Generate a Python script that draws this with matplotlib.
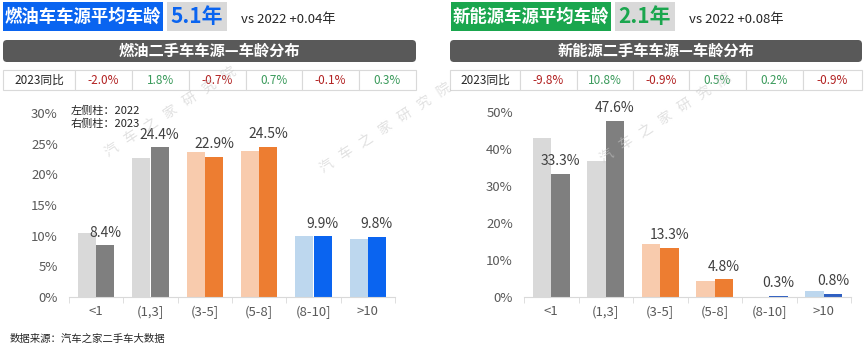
import matplotlib
matplotlib.use("Agg")
import matplotlib.pyplot as plt
from matplotlib.patches import Rectangle, FancyBboxPatch

plt.rcParams['font.family'] = ['Noto Sans CJK SC', 'DejaVu Sans']

# data
categories = ['<1', '(1,3]', '(3-5]', '(5-8]', '(8-10]', '>10']
fuel_2022 = [10.4, 22.6, 23.6, 23.8, 10.0, 9.5]
fuel_2023 = [8.4, 24.4, 22.9, 24.5, 9.9, 9.8]
fuel_yoy = [-2.0, 1.8, -0.7, 0.7, -0.1, 0.3]
nev_2022 = [43.1, 36.8, 14.2, 4.3, 0.1, 1.7]
nev_2023 = [33.3, 47.6, 13.3, 4.8, 0.3, 0.8]
nev_yoy = [-9.8, 10.8, -0.9, 0.5, 0.2, -0.9]

W, H = 865, 350
fig = plt.figure(figsize=(W / 100, H / 100), dpi=100)
T = fig.dpi_scale_trans


def px(x, y):
    # pixel coords (top-left origin) -> inches
    return x / 100, (H - y) / 100


def rect(x0, y0, x1, y1, **kw):
    x, y = px(x0, y1)
    fig.patches.append(Rectangle((x, y), (x1 - x0) / 100, (y1 - y0) / 100,
                                 transform=T, **kw))


def text(x, y, s, **kw):
    fig.text(*px(x, y), s, transform=T, **kw)


def header(x0, title, color, age, vs, banner, cells, yoy):
    # title box + age box
    rect(x0, 2, x0 + 160, 31, color=color, lw=0)
    text(x0 + 80, 16.5, title, color='white', fontsize=12.5, fontweight='bold',
         ha='center', va='center')
    rect(x0 + 164, 2, x0 + 224, 31, color='#D9D9D9', lw=0)
    text(x0 + 194, 16.5, age, color=color, fontsize=15, fontweight='bold',
         ha='center', va='center')
    text(x0 + 238, 20, vs, color='#262626', fontsize=9.5, ha='left', va='center')

    # dark banner
    bx, by = px(cells[0], 62)
    fig.patches.append(FancyBboxPatch((bx, by), (cells[-1] - cells[0]) / 100, 0.22,
                                      boxstyle='round,pad=0,rounding_size=0.04',
                                      transform=T, color='#595959', lw=0))
    text((cells[0] + cells[-1]) / 2, 51, banner, color='white', fontsize=11,
         fontweight='bold', ha='center', va='center')

    # yoy table
    for i in range(len(cells) - 1):
        rect(cells[i], 70, cells[i + 1], 90, facecolor='white',
             edgecolor='#D9D9D9', lw=0.8)
    text((cells[0] + cells[1]) / 2, 80, '2023同比', color='#262626',
         fontsize=8.5, ha='center', va='center')
    for i, v in enumerate(yoy):
        c = '#B22222' if v < 0 else '#3A9A5B'
        text((cells[i + 1] + cells[i + 2]) / 2, 80, f'{v:.1f}%', color=c,
             fontsize=8.5, ha='center', va='center')


def bars(left, top, right, ymax, step, v22, v23, light, dark):
    ax = fig.add_axes([left / W, 1 - 297 / H, (right - left) / W, (297 - top) / H])
    x = list(range(len(categories)))
    w = 0.335
    ax.bar([i - w / 2 for i in x], v22, width=w, color=light, lw=0)
    ax.bar([i + w / 2 for i in x], v23, width=w, color=dark, lw=0)
    for i, v in enumerate(v23):
        ax.annotate(f'{v}%', (i + w / 2, v), xytext=(0, 4), textcoords='offset points',
                    ha='center', va='bottom', fontsize=10, color='#404040')
    ax.set_xlim(-0.5, len(categories) - 0.5)
    ax.set_ylim(0, ymax)
    ax.set_yticks(range(0, ymax + 1, step))
    ax.set_yticklabels([f'{t}%' for t in range(0, ymax + 1, step)])
    ax.set_xticks(x)
    ax.set_xticklabels(categories)
    ax.set_xticks([i - 0.5 for i in range(len(categories) + 1)], minor=True)
    ax.tick_params(axis='both', which='major', length=0, labelsize=9.5,
                   colors='#595959')
    ax.tick_params(axis='x', which='major', pad=6)
    ax.tick_params(axis='y', pad=8)
    ax.tick_params(axis='x', which='minor', length=4, color='#D9D9D9')
    for s in ['top', 'right', 'left']:
        ax.spines[s].set_visible(False)
    ax.spines['bottom'].set_color('#D9D9D9')
    ax.patch.set_alpha(0)
    return ax


header(3, '燃油车车源平均车龄', '#0A64F0', '5.1年', 'vs 2022 +0.04年',
       '燃油二手车车源—车龄分布', [3, 75, 132, 189, 246, 302, 359, 416], fuel_yoy)
header(451, '新能源车源平均车龄', '#1AA64E', '2.1年', 'vs 2022 +0.08年',
       '新能源二手车车源—车龄分布', [450, 520, 577, 633, 689, 746, 803, 862], nev_yoy)

grey_l, grey_d = '#D9D9D9', '#7F7F7F'
org_l, org_d = '#F8CBAD', '#ED7D31'
bars(69, 113, 395, 30, 5, fuel_2022, fuel_2023,
     [grey_l, grey_l, org_l, org_l, '#BDD7EE', '#BDD7EE'],
     [grey_d, grey_d, org_d, org_d, '#0A64F0', '#0A64F0'])
bars(524, 112, 851, 50, 10, nev_2022, nev_2023,
     [grey_l, grey_l, org_l, org_l, '#BDD7EE', '#BDD7EE'],
     [grey_d, grey_d, org_d, org_d, '#2E5FC1', '#2E5FC1'])

text(71, 111, '左侧柱：2022', fontsize=8, color='#262626', va='center')
text(71, 124, '右侧柱：2023', fontsize=8, color='#262626', va='center')
text(10, 339, '数据来源：汽车之家二手车大数据', fontsize=7.5, color='#262626', va='center')

# watermarks
for cx, cy in [(170, 112), (385, 128), (665, 118)]:
    text(cx, cy, '汽   车   之   家   研   究   院', fontsize=10, color='#C8C8C8',
         alpha=0.55, rotation=33, ha='center', va='center')

fig.savefig('out.png', dpi=100)
